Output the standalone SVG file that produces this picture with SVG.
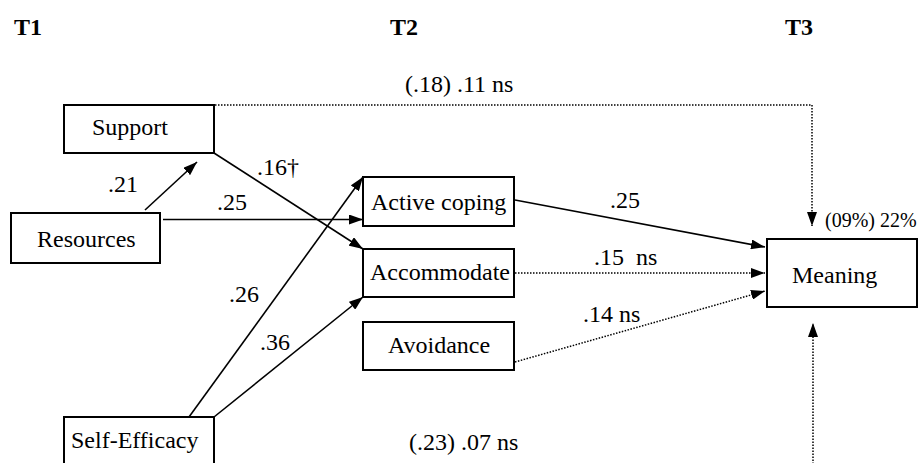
<svg xmlns="http://www.w3.org/2000/svg" width="923" height="463" viewBox="0 0 923 463">
<style>
text{font-family:"Liberation Serif","Times New Roman",serif;font-size:24px;fill:#000}
.t{font-weight:bold}
.box{fill:#fff;stroke:#000;stroke-width:2}
.ln{fill:none;stroke:#000;stroke-width:1.6}
.dot{fill:none;stroke:#000;stroke-width:1.5;stroke-dasharray:1.5 1.5}
</style>
<defs>
<marker id="ah" viewBox="0 0 14 10" refX="14" refY="5" markerWidth="14" markerHeight="10" markerUnits="userSpaceOnUse" orient="auto">
<path d="M0,0 L14,5 L0,10 z" fill="#000"/>
</marker>
</defs>
<rect width="923" height="463" fill="#fff"/>
<g id="headers">
<text class="t" x="14" y="35">T1</text>
<text class="t" x="390" y="35">T2</text>
<text class="t" x="785" y="35">T3</text>
</g>
<g id="connectors">
<polyline class="dot" points="215,105 812,105 812,226" marker-end="url(#ah)"/>
<line class="ln" x1="145" y1="210" x2="197" y2="162" marker-end="url(#ah)"/>
<line class="ln" x1="163" y1="219.5" x2="363" y2="219.5" marker-end="url(#ah)"/>
<line class="ln" x1="214" y1="153" x2="363" y2="249" marker-end="url(#ah)"/>
<line class="ln" x1="189" y1="417" x2="363" y2="177" marker-end="url(#ah)"/>
<line class="ln" x1="214" y1="417" x2="363" y2="297" marker-end="url(#ah)"/>
<line class="ln" x1="515" y1="200" x2="765" y2="247" marker-end="url(#ah)"/>
<line class="dot" x1="515" y1="273" x2="765" y2="273" marker-end="url(#ah)"/>
<line class="dot" x1="515" y1="362" x2="765" y2="291" marker-end="url(#ah)"/>
<line class="dot" x1="813" y1="470" x2="813" y2="323" marker-end="url(#ah)"/>
</g>
<g id="labels">
<text x="405" y="92">(.18) .11 ns</text>
<text x="108" y="192">.21</text>
<text x="217" y="210">.25</text>
<text x="257" y="175">.16†</text>
<text x="229" y="302">.26</text>
<text x="260" y="350">.36</text>
<text x="610" y="208">.25</text>
<text x="594" y="265" xml:space="preserve">.15  ns</text>
<text x="583" y="322">.14 ns</text>
<text x="825" y="227" style="font-size:20px">(09%) 22%</text>
<text x="409" y="450">(.23) .07 ns</text>
</g>
<g id="support"><rect class="box" x="64" y="105" width="150" height="48"/><text x="92" y="135">Support</text></g>
<g id="resources"><rect class="box" x="11" y="213" width="149" height="50"/><text x="37" y="247">Resources</text></g>
<g id="selfefficacy"><rect class="box" x="64" y="417" width="150" height="60"/><text x="71" y="448">Self-Efficacy</text></g>
<g id="activecoping"><rect class="box" x="363" y="177" width="151" height="49"/><text x="371" y="210">Active coping</text></g>
<g id="accommodate"><rect class="box" x="363" y="249" width="151" height="48"/><text x="370" y="280">Accommodate</text></g>
<g id="avoidance"><rect class="box" x="363" y="322" width="151" height="48"/><text x="388" y="353">Avoidance</text></g>
<g id="meaning"><rect class="box" x="767" y="239" width="150" height="68"/><text x="792" y="283">Meaning</text></g>
</svg>
